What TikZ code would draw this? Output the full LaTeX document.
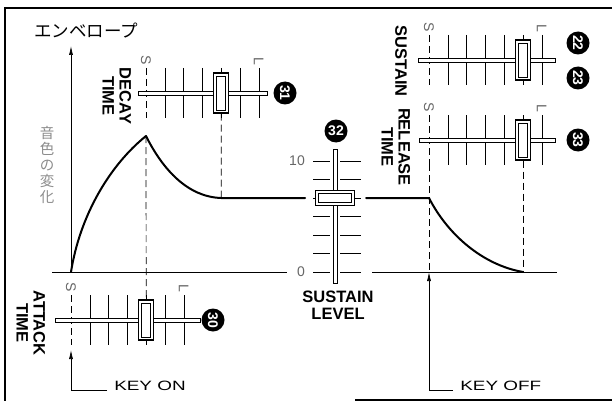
\documentclass[tikz,border=0pt]{standalone}
\usepackage{fontspec}
\setmainfont{Liberation Sans}
\newfontfamily\jpfont{Noto Sans CJK JP}
\usetikzlibrary{arrows.meta}

\begin{document}
\begin{tikzpicture}[
  x=1pt, y=-1pt,
  envline/.style={line width=2pt, line cap=round, line join=round},
  axisline/.style={line width=0.7pt},
  guide/.style={line width=0.7pt, dash pattern=on 7pt off 4pt},
  sltick/.style={line width=0.6pt},
  rail/.style={draw, fill=white, line width=0.6pt},
  knob/.style={draw, fill=white, line width=1.3pt, minimum width=15pt, minimum height=40pt, inner sep=0pt},
  knobin/.style={draw, line width=0.5pt, minimum width=9pt, minimum height=34pt, inner sep=0pt},
  badge/.style={circle, fill=black, text=white, minimum size=23pt, inner sep=0pt, font=\bfseries\fontsize{14}{14}\selectfont},
  caption/.style={font=\bfseries\fontsize{16.5}{17}\selectfont, align=center, inner sep=0pt},
  endmark/.style={font=\fontsize{14}{14}\selectfont, text=black!60, inner sep=0pt, rotate=-90},
  keylabel/.style={font=\fontsize{13.5}{13.5}\selectfont, anchor=base west, inner xsep=5pt, inner ysep=0pt, xscale=1.4},
  pointer/.style={line width=0.7pt, -{Latex[length=9pt, width=4pt]}},
]
\useasboundingbox (0,0) rectangle (612,401);

% frame
\draw[line width=1.5pt] (612,8) -- (5,8) -- (5,401);
\draw[line width=1.5pt] (355,400) -- (612,400);

\node[font=\jpfont\fontsize{17.5}{17.5}\selectfont] (title) at (86,31) {エンベロープ};
\node[font=\jpfont\fontsize{14.5}{16}\selectfont, text=black!45, align=center, inner sep=0pt] (timbre) at (47,165) {音\\色\\の\\変\\化};

% axes
\coordinate (O) at (71,272);
\coordinate (ytop) at (71,46);
\coordinate (xleft) at (52,272);
\coordinate (xmid) at (287,272);
\coordinate (xgo) at (372,272);
\coordinate (xend) at (557,272);
\draw[axisline, pointer] (O) -- (ytop);
\draw[axisline] (xleft) -- (xmid);
\draw[axisline] (xgo) -- (xend);

% envelope
\coordinate (peak) at (146,136);
\coordinate (dend) at (221.2,198);
\coordinate (sl) at (305,198);
\coordinate (sr) at (366,198);
\coordinate (roff) at (429,198);
\coordinate (rend) at (523,272);
\coordinate (keyoff) at (429,272);
\coordinate (keyon) at (71,350);
\coordinate (rels) at (429,164);
\draw[envline] (O) .. controls (80,215) and (110,165) .. (peak)
  .. controls (163,170) and (188,197) .. (dend) -- (sl);
\draw[envline] (sr) -- (roff) .. controls (448,235) and (483,265) .. (rend);

% time sliders
\foreach \nm/\xs/\yr/\pos/\rl/\rr in {attack/71/320/4/55/200, decay/146/93/4/138/267, sustain/429/60/5/418/555, release/429/140/5/419/555} {
  \foreach \i in {1,...,6}
    \draw[sltick] (\xs+18.8*\i,\yr-25) -- (\xs+18.8*\i,\yr+25);
  \draw[sltick, dash pattern=on 7pt off 4pt] (\xs,\yr-25) -- (\xs,\yr+25);
  \draw[rail] (\rl,\yr-2) rectangle (\rr,\yr+2);
  \node[knob] (\nm-knob) at (\xs+18.8*\pos,\yr) {};
  \node[knobin] (\nm-knobin) at (\xs+18.8*\pos,\yr) {};
  \node[endmark] (\nm-s) at (\xs,\yr-33) {S};
  \node[endmark] (\nm-l) at (\xs+112.8,\yr-32) {L};
}

% level slider
\foreach \j in {0,...,6} {
  \draw[sltick] (313,161+18.5*\j) -- (330,161+18.5*\j);
  \draw[sltick] (340,161+18.5*\j) -- (361,161+18.5*\j);
}
\draw[rail] (333,149) rectangle (337,283);
\node[knob, minimum width=39pt, minimum height=15pt] (level-knob) at (335,198) {};
\node[knobin, minimum width=33pt, minimum height=9pt] (level-knobin) at (335,198) {};
\node[font=\fontsize{14}{14}\selectfont, text=black!60] (ten) at (297,161) {10};
\node[font=\fontsize{14}{14}\selectfont, text=black!60] (zero) at (301,272) {0};

\draw[guide] (peak) -- (attack-knob.north);
\draw[guide] (decay-knob.south) -- (dend);
\draw[guide] (release-knob.south) -- (rend);
\draw[guide] (rels) -- (keyoff);

\node[badge, rotate=-90] (b30) at (213,320) {30};
\node[badge, rotate=-90] (b31) at (285,93) {31};
\node[badge, rotate=-90] (b22) at (578,43) {22};
\node[badge, rotate=-90] (b23) at (578,78) {23};
\node[badge, rotate=-90] (b33) at (578,140) {33};
\node[badge] (b32) at (336,131) {32};

\node[caption, rotate=-90] (attackcap) at (31,323) {ATTACK\\TIME};
\node[caption, rotate=-90] (decaycap) at (117,96) {DECAY\\TIME};
\node[caption, rotate=-90] (sustaincap) at (401,61) {SUSTAIN};
\node[caption, rotate=-90] (releasecap) at (396,147) {RELEASE\\TIME};
\node[caption] (levelcap) at (338,305) {SUSTAIN\\LEVEL};

\node[keylabel] (keyonlbl) at (107,390) {KEY ON};
\node[keylabel] (keyofflbl) at (453,390) {KEY OFF};
\draw[pointer] (keyonlbl.base west) -| (keyon);
\draw[pointer] (keyofflbl.base west) -| (keyoff);
\end{tikzpicture}
\end{document}
